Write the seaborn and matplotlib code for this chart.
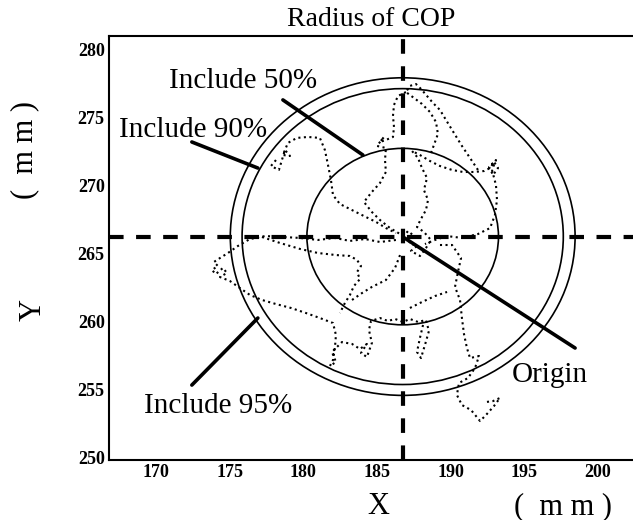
import numpy as np
import pandas as pd
import matplotlib
matplotlib.use("Agg")
import matplotlib.pyplot as plt
import seaborn as sns
from matplotlib.patches import Circle

# COP trajectory in mm, traced stroke by stroke from the figure
cop_x = [
    [186.77, 187.11, 187.52, 187.18, 187.72, 187.31, 187.92, 188.33, 188.67, 188.19, 187.72,
     187.99, 188.33, 188.47, 188.19, 188.40, 188.06, 187.79, 187.38, 187.92, 188.60, 189.28,
     190.10, 190.84, 191.59, 192.27, 192.68, 192.95, 193.22, 192.88, 192.61, 193.08, 192.81],
    [192.81, 193.08, 193.15, 193.01, 192.68, 191.86, 190.77, 189.76, 188.94, 188.26],
    [191.86, 191.32, 190.77, 190.23, 189.69, 189.28, 188.81, 188.40, 187.99, 187.65, 187.24,
     186.97, 187.52, 188.06, 188.60, 189.01, 189.14, 188.87, 188.60],
    [186.97, 186.43, 186.16, 186.09, 186.16, 186.09, 185.61, 185.21, 185.48, 185.00, 185.61,
     185.55, 185.61, 185.21, 184.66, 184.12, 184.66, 185.21, 185.89, 186.57],
    [178.15, 177.81, 178.35, 178.76, 179.10, 178.62, 178.96, 179.57, 180.32, 181.13, 181.47,
     181.68, 181.88, 182.02, 182.49, 183.17, 183.85, 184.39, 184.94, 185.61, 186.29],
    [186.29, 185.21, 184.19, 183.17, 182.15, 181.00, 179.78, 178.62, 177.40, 176.38, 175.57,
     174.89, 174.35, 173.94, 174.21, 173.80, 174.07, 174.55, 174.82, 174.35, 175.02, 175.70,
     176.38, 177.20, 178.15, 179.17, 180.18, 181.13, 182.02, 182.22, 182.15, 182.02, 181.81,
     182.22, 181.95, 182.63, 183.31, 183.85, 184.32, 183.92, 184.32, 184.66, 184.46, 184.60,
     185.21, 185.75, 186.23, 186.77, 187.24, 187.79, 188.33, 188.53, 188.26, 187.99, 187.72,
     187.92, 188.13],
    [177.20, 178.42, 179.78, 181.00, 182.22, 183.17, 183.65, 183.92, 183.65, 183.85, 183.44,
     183.17, 182.83, 182.49],
    [183.31, 183.99, 184.66, 185.61, 186.23, 186.57],
    [189.28, 190.10, 190.71, 190.50, 190.30, 190.64, 190.77, 190.91, 191.11, 191.32, 191.93,
     191.66, 191.18, 190.57, 190.43, 190.77, 191.39, 192.00, 192.40, 192.95, 193.35, 192.88,
     192.40],
    [187.24, 188.06, 188.94, 189.76],
]
cop_y = [
    [266.22, 266.66, 266.29, 265.78, 265.56, 265.19, 264.82, 265.41, 266.00, 266.59, 266.96,
     267.55, 268.21, 268.95, 269.68, 270.57, 271.30, 272.04, 272.56, 272.26, 271.82, 271.45,
     271.16, 271.01, 271.01, 271.08, 271.30, 271.75, 271.30, 270.79, 271.38, 271.89, 271.16],
    [271.16, 270.05, 268.95, 267.84, 266.88, 266.44, 266.15, 266.29, 266.00, 265.70],
    [271.16, 272.04, 272.93, 273.88, 274.84, 275.58, 276.09, 276.61, 277.13, 277.49, 277.35,
     276.90, 276.46, 276.02, 275.43, 274.69, 273.81, 273.00, 272.19],
    [276.90, 276.61, 275.95, 275.14, 274.33, 273.59, 273.37, 273.22, 273.59, 272.93, 272.78,
     271.89, 271.01, 270.20, 269.54, 268.80, 268.06, 267.47, 266.88, 266.44],
    [271.89, 271.45, 271.16, 272.63, 272.19, 272.26, 273.15, 273.52, 273.59, 273.52, 272.63,
     271.53, 270.42, 269.31, 268.65, 268.28, 267.91, 267.62, 267.33, 266.88, 266.51],
    [266.00, 265.85, 266.07, 265.93, 266.15, 266.00, 266.15, 266.22, 266.29, 266.07, 265.56,
     265.04, 264.67, 264.38, 264.08, 263.79, 263.49, 263.94, 263.57, 263.27, 262.98, 262.46,
     261.95, 261.58, 261.28, 260.99, 260.62, 260.25, 259.88, 259.00, 258.04, 257.16, 256.71,
     257.01, 257.75, 258.48, 258.34, 257.97, 258.34, 257.67, 257.38, 258.41, 259.37, 260.03,
     260.25, 260.03, 260.18, 259.96, 260.18, 259.96, 260.10, 259.29, 258.26, 257.30, 257.75,
     258.78, 259.74],
    [266.22, 265.78, 265.34, 265.04, 264.89, 264.82, 264.53, 264.08, 263.64, 263.12, 262.61,
     261.95, 261.36, 260.62],
    [261.58, 262.09, 262.54, 263.05, 263.94, 264.89],
    [265.63, 265.63, 264.67, 263.64, 262.54, 261.58, 260.25, 259.07, 258.04, 257.30, 257.45,
     256.57, 255.83, 255.46, 254.58, 253.84, 253.47, 252.66, 253.10, 253.77, 254.36, 254.13,
     254.06],
    [260.99, 261.43, 261.87, 262.17],
]

origin = (186.75, 266.25)
circle_pct = ["50%", "90%", "95%"]
circle_r = [6.5, 10.9, 11.7]

labels = ["Include 50%", "Include 90%", "Include 95%", "Origin"]
label_x = [175.9, 172.55, 174.24, 196.75]
label_y = [277.2, 273.59, 253.25, 255.53]
lead_x0 = [178.62, 172.44, 172.44, 186.77]
lead_y0 = [276.32, 273.22, 255.31, 266.22]
lead_x1 = [184.05, 176.92, 176.92, 198.45]
lead_y1 = [272.26, 271.30, 260.25, 258.04]

xticks = [170, 175, 180, 185, 190, 195, 200]
yticks = [250, 255, 260, 265, 270, 275, 280]

rows = []
for i, (xs, ys) in enumerate(zip(cop_x, cop_y)):
    for a, b in zip(xs, ys):
        rows.append((i, a, b))
df = pd.DataFrame(rows, columns=["stroke", "x", "y"])

sns.set_theme(style="white", rc={"text.color": "black", "axes.labelcolor": "black",
                                 "xtick.color": "black", "ytick.color": "black"})
plt.rcParams["font.family"] = ["Liberation Serif", "DejaVu Serif"]

fig = plt.figure(figsize=(6.33, 5.20), dpi=100)
ax = fig.add_axes([0.172, 0.1154, 0.828, 0.8154])

sns.lineplot(data=df, x="x", y="y", units="stroke", estimator=None, sort=False,
             color="black", lw=1.5, linestyle=":", ax=ax, legend=False)

for r in circle_r:
    ax.add_patch(Circle(origin, r, fill=False, ec="black", lw=1.2))

ax.axhline(origin[1], color="black", lw=3, linestyle=(0, (3.5, 3)))
ax.axvline(origin[0], color="black", lw=3, linestyle=(0, (3.5, 3)))

for t, tx, ty, x0, y0, x1, y1 in zip(labels, label_x, label_y, lead_x0, lead_y0, lead_x1, lead_y1):
    ax.plot([x0, x1], [y0, y1], color="black", lw=2.6, solid_capstyle="round")
    ax.text(tx, ty, t, fontsize=21, ha="center", va="baseline", color="black")

ax.set_xlim(166.81, 202.38)
ax.set_ylim(249.79, 281.03)
ax.set_xticks(xticks)
ax.set_yticks(yticks)
ax.set_xticklabels([str(v) for v in xticks], fontsize=13, fontweight="bold")
ax.set_yticklabels([str(v) for v in yticks], fontsize=13, fontweight="bold")
ax.tick_params(direction="in", length=3, width=1, pad=3, colors="black")
ax.set_xlabel("")
ax.set_ylabel("")
for s in ["left", "top", "bottom"]:
    ax.spines[s].set_color("black")
    ax.spines[s].set_linewidth(1.5)
ax.spines["right"].set_visible(False)

fig.text(371 / 633, 1 - 20 / 520, "Radius of COP", fontsize=20, ha="center", va="center")
fig.text(378 / 633, 1 - 507 / 520, "X", fontsize=22, ha="center", va="center")
fig.text(563 / 633, 1 - 507 / 520, "(  m m )", fontsize=22, ha="center", va="center")
fig.text(33 / 633, 1 - 310 / 520, "Y", fontsize=22, ha="center", va="center", rotation=90)
fig.text(25 / 633, 1 - 150 / 520, "(  m m )", fontsize=22, ha="center", va="center", rotation=90)

fig.savefig("out.png", dpi=100, facecolor="white")
